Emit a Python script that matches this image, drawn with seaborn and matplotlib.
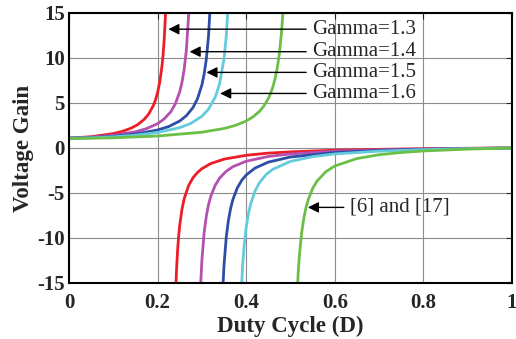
import matplotlib
matplotlib.use("Agg")
import matplotlib.pyplot as plt
import seaborn as sns

# duty cycle / voltage gain, one list pair per branch
red_up_d = [0, 0.05, 0.10, 0.12, 0.14, 0.155, 0.17, 0.18, 0.19, 0.195, 0.20, 0.205,
            0.21, 0.2125, 0.215, 0.2175, 0.22]
red_up_g = [1.1, 1.25, 1.6, 1.84, 2.2, 2.59, 3.19, 3.78, 4.67, 5.3, 6.15, 7.36,
            9.13, 10.4, 12.1, 14.5, 18.1]
red_lo_d = [0.24, 0.2425, 0.245, 0.2475, 0.25, 0.255, 0.26, 0.27, 0.28, 0.29, 0.30,
            0.32, 0.35, 0.40, 0.45, 0.50, 0.60, 0.70, 0.80, 0.90, 1.0]
red_lo_g = [-17.3, -13.8, -11.5, -9.82, -8.57, -6.83, -5.65, -4.18, -3.30, -2.72, -2.30,
            -1.73, -1.24, -0.81, -0.57, -0.43, -0.25, -0.15, -0.08, -0.03, 0]

mag_up_d = [0, 0.05, 0.10, 0.15, 0.175, 0.20, 0.215, 0.23, 0.24, 0.25, 0.255, 0.26,
            0.265, 0.27, 0.275]
mag_up_g = [1.1, 1.2, 1.42, 1.80, 2.15, 2.70, 3.23, 4.04, 4.90, 6.25, 7.28, 8.73,
            10.9, 14.7, 22.7]
mag_lo_d = [0.295, 0.2975, 0.30, 0.305, 0.31, 0.315, 0.32, 0.33, 0.34, 0.355, 0.37,
            0.40, 0.45, 0.50, 0.60, 0.70, 0.80, 0.90, 1.0]
mag_lo_g = [-18.4, -14.9, -12.5, -9.44, -7.57, -6.30, -5.38, -4.15, -3.35, -2.58, -2.08,
            -1.47, -0.94, -0.66, -0.36, -0.20, -0.11, -0.05, 0]

blue_up_d = [0, 0.05, 0.10, 0.15, 0.20, 0.225, 0.25, 0.265, 0.28, 0.29, 0.30, 0.305,
             0.31, 0.315, 0.32]
blue_up_g = [1.1, 1.15, 1.3, 1.55, 2.0, 2.38, 3.0, 3.59, 4.5, 5.46, 7.0, 8.18,
             9.86, 12.45, 17.0]
blue_lo_d = [0.345, 0.3475, 0.35, 0.355, 0.36, 0.365, 0.37, 0.38, 0.39, 0.40, 0.42,
             0.45, 0.50, 0.60, 0.70, 0.80, 0.90, 1.0]
blue_lo_g = [-18.7, -15.4, -13.0, -9.92, -8.0, -6.68, -5.73, -4.43, -3.59, -3.0, -2.23,
             -1.57, -1.0, -0.5, -0.27, -0.14, -0.06, 0]

cyan_up_d = [0, 0.05, 0.10, 0.15, 0.20, 0.25, 0.275, 0.30, 0.315, 0.33, 0.34, 0.35,
             0.355, 0.36]
cyan_up_g = [1.1, 1.12, 1.24, 1.42, 1.72, 2.26, 2.73, 3.52, 4.31, 5.63, 7.16, 9.92,
             12.4, 16.5]
cyan_lo_d = [0.388, 0.392, 0.395, 0.40, 0.405, 0.41, 0.42, 0.43, 0.445, 0.46, 0.50,
             0.55, 0.60, 0.70, 0.80, 0.90, 1.0]
cyan_lo_g = [-17.0, -13.0, -11.1, -8.82, -7.31, -6.23, -4.78, -3.85, -2.95, -2.37, -1.49,
             -0.96, -0.66, -0.35, -0.18, -0.07, 0]

green_up_d = [0, 0.10, 0.20, 0.30, 0.35, 0.375, 0.40, 0.415, 0.43, 0.44, 0.45, 0.455,
              0.46, 0.465, 0.47, 0.475, 0.48, 0.4825, 0.485]
green_up_g = [1.05, 1.13, 1.33, 1.75, 2.17, 2.5, 3.0, 3.44, 4.07, 4.67, 5.5, 6.06,
              6.75, 7.64, 8.83, 10.5, 13.0, 14.8, 17.2]
green_lo_d = [0.515, 0.5175, 0.52, 0.525, 0.53, 0.535, 0.54, 0.55, 0.56, 0.58, 0.60,
              0.65, 0.70, 0.75, 0.80, 0.90, 1.0]
green_lo_g = [-16.2, -13.8, -12.0, -9.5, -7.83, -6.64, -5.75, -4.5, -3.67, -2.63, -2.0,
              -1.17, -0.75, -0.5, -0.33, -0.125, 0]

labels = ["Gamma=1.3", "Gamma=1.4", "Gamma=1.5", "Gamma=1.6"]
label_tips = [(0.218, 13.2), (0.266, 10.7), (0.304, 8.4), (0.335, 6.06)]

sns.set_style("white")
plt.rcParams["font.family"] = ["Liberation Serif", "DejaVu Serif"]
plt.rcParams["axes.unicode_minus"] = False

fig = plt.figure(figsize=(5.16, 3.39), dpi=100)
ax = fig.add_axes([0.1337, 0.1652, 0.8585, 0.7965])

curves = [
    (red_up_d, red_up_g, red_lo_d, red_lo_g, "#ee1c25"),
    (mag_up_d, mag_up_g, mag_lo_d, mag_lo_g, "#b450b0"),
    (blue_up_d, blue_up_g, blue_lo_d, blue_lo_g, "#2e4da6"),
    (cyan_up_d, cyan_up_g, cyan_lo_d, cyan_lo_g, "#63cbdc"),
    (green_up_d, green_up_g, green_lo_d, green_lo_g, "#6cbf46"),
]
for ud, ug, ld, lg, c in curves:
    sns.lineplot(x=ud, y=ug, color=c, lw=2, ax=ax, sort=False)
    sns.lineplot(x=ld, y=lg, color=c, lw=2, ax=ax, sort=False)

ax.set_xlim(0, 1)
ax.set_ylim(-15, 15)
ax.set_xticks([0, 0.2, 0.4, 0.6, 0.8, 1])
ax.set_xticklabels(["0", "0.2", "0.4", "0.6", "0.8", "1"])
ax.set_yticks([-15, -10, -5, 0, 5, 10, 15])
ax.grid(True, color="#8c8c8c", lw=0.8)
ax.tick_params(direction="in", top=True, right=True, length=4, labelsize=15)
ax.tick_params(axis="x", pad=7)
ax.tick_params(axis="y", pad=3)
for t in ax.get_xticklabels() + ax.get_yticklabels():
    t.set_fontweight("bold")
for s in ax.spines.values():
    s.set_color("black")
    s.set_linewidth(1.5)

ax.set_xlabel("Duty Cycle (D)", fontsize=16.5, fontweight="bold", labelpad=2)
ax.set_ylabel("Voltage Gain", fontsize=16.5, fontweight="bold", labelpad=2)

arrow = dict(arrowstyle="-|>", color="black", lw=1, mutation_scale=16)
for lab, tip in zip(labels, label_tips):
    ax.annotate(lab, xy=tip, xytext=(0.549, tip[1]), fontsize=15,
                va="center", ha="left", arrowprops=arrow)
ax.annotate("[6] and [17]", xy=(0.533, -6.6), xytext=(0.634, -6.6), fontsize=15,
            va="center", ha="left", arrowprops=arrow)

fig.savefig("out.png", dpi=100)
